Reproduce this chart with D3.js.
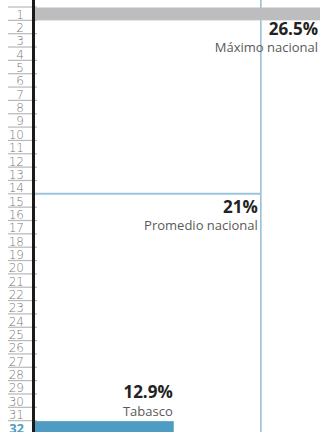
<!DOCTYPE html>
<html>
<head>
<meta charset="utf-8">
<script src="https://cdn.jsdelivr.net/npm/d3@7"></script>
<style>
  body { margin: 0; background: #fff; }
  svg { display: block; font-family: "Open Sans", sans-serif; }
  .value { font-weight: 700; font-size: 17px; fill: #222; }
  .name { font-size: 13px; fill: #5a5a5a; }
</style>
</head>
<body>
<div id="chart"></div>
<script>
// data
const ranks = [1, 2, 3, 4, 5, 6, 7, 8, 9, 10, 11, 12, 13, 14, 15, 16,
  17, 18, 19, 20, 21, 22, 23, 24, 25, 26, 27, 28, 29, 30, 31, 32]
const barRanks = [1, 32]
const barValues = [26.5, 12.9]
const barNames = ["Máximo nacional", "Tabasco"]
const barColors = ["#bdbdc0", "#4e9cc1"]
const promedioValue = 21
const promedioRank = 14.5
const promedioName = "Promedio nacional"
const highlightRank = 32

function drawChart() {
  let dimensions = {
    width: 320,
    height: 432,
    margin: { top: 7, left: 35 },
  }

  const svg = d3.select("#chart")
    .append("svg")
      .attr("width", dimensions.width)
      .attr("height", dimensions.height)

  // scales
  const xScale = d3.scaleLinear()
    .domain([0, 26.5])
    .range([dimensions.margin.left, dimensions.width])

  const yScale = d3.scaleBand()
    .domain(ranks)
    .range([dimensions.margin.top, 434])
    .padding(0)

  const yLinear = d3.scaleLinear()
    .domain([0.5, 32.5])
    .range([dimensions.margin.top, 434])

  // row underlines
  svg.append("g")
    .selectAll("line")
    .data([0].concat(ranks))
    .join("line")
      .attr("x1", 8)
      .attr("x2", 37)
      .attr("y1", d => yLinear(d + 0.5))
      .attr("y2", d => yLinear(d + 0.5))
      .attr("stroke", "#b8b8b8")
      .attr("stroke-width", 1.2)

  // promedio vertical line
  svg.append("line")
    .attr("x1", xScale(promedioValue))
    .attr("x2", xScale(promedioValue))
    .attr("y1", 0)
    .attr("y2", dimensions.height)
    .attr("stroke", "#93bcd4")
    .attr("stroke-width", 1.5)

  // promedio horizontal line
  svg.append("line")
    .attr("x1", dimensions.margin.left)
    .attr("x2", xScale(promedioValue))
    .attr("y1", yLinear(promedioRank))
    .attr("y2", yLinear(promedioRank))
    .attr("stroke", "#9cc4da")
    .attr("stroke-width", 2)

  // bars
  svg.append("g")
    .selectAll("rect")
    .data(barRanks)
    .join("rect")
      .attr("x", xScale(0))
      .attr("y", d => yScale(d) + 0.5)
      .attr("width", (d, i) => xScale(barValues[i]) - xScale(0))
      .attr("height", yScale.bandwidth() - 0.5)
      .attr("fill", (d, i) => barColors[i])

  // axis labels
  const yAxisGenerator = d3.axisLeft(yScale)
    .tickSize(0)
    .tickPadding(0)
  const yAxis = svg.append("g")
    .attr("transform", "translate(24,0)")
    .call(yAxisGenerator)
  yAxis.select(".domain").remove()
  yAxis.attr("font-family", null).attr("font-size", null)
  yAxis.selectAll("text")
    .attr("dy", "0.42em")
    .attr("fill", "#7a7a7a")
    .style("font-family", "'DejaVu Sans', sans-serif")
    .style("font-weight", 200)
    .style("font-size", "12px")
  yAxis.selectAll(".tick")
    .filter(d => d === highlightRank)
    .select("text")
      .style("font-family", "'Open Sans', sans-serif")
      .style("font-weight", 700)
      .style("font-size", "13px")
      .attr("fill", "#4e9cc1")

  // axis line
  svg.append("line")
    .attr("x1", 33.5)
    .attr("x2", 33.5)
    .attr("y1", 0)
    .attr("y2", dimensions.height)
    .attr("stroke", "#1a1a1a")
    .attr("stroke-width", 3)

  // labels
  const fmt = d => d + "%"
  const maxBottom = yScale(barRanks[0]) + yScale.bandwidth()
  svg.append("text")
    .attr("class", "value")
    .attr("x", xScale(barValues[0]) - 2)
    .attr("y", maxBottom + 15)
    .attr("text-anchor", "end")
    .text(fmt(barValues[0]))
  svg.append("text")
    .attr("class", "name")
    .attr("x", xScale(barValues[0]) - 2)
    .attr("y", maxBottom + 32)
    .attr("text-anchor", "end")
    .text(barNames[0])

  const promY = yLinear(promedioRank)
  svg.append("text")
    .attr("class", "value")
    .attr("x", xScale(promedioValue) - 3)
    .attr("y", promY + 19)
    .attr("text-anchor", "end")
    .text(fmt(promedioValue))
  svg.append("text")
    .attr("class", "name")
    .attr("x", xScale(promedioValue) - 3)
    .attr("y", promY + 36)
    .attr("text-anchor", "end")
    .text(promedioName)

  const tabTop = yScale(barRanks[1])
  svg.append("text")
    .attr("class", "value")
    .attr("x", xScale(barValues[1]) - 1)
    .attr("y", tabTop - 23)
    .attr("text-anchor", "end")
    .text(fmt(barValues[1]))
  svg.append("text")
    .attr("class", "name")
    .attr("x", xScale(barValues[1]) - 1)
    .attr("y", tabTop - 5)
    .attr("text-anchor", "end")
    .text(barNames[1])
}

drawChart()
</script>
</body>
</html>
